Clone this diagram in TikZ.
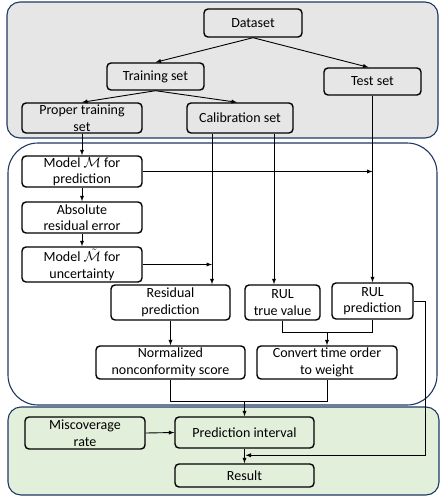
\documentclass[tikz,border=0pt]{standalone}
\usepackage{amsmath}
\usepackage{fontspec}
\setmainfont{Carlito}
\usepackage{xcolor}
\usepackage{tikz}
\usetikzlibrary{calc}
\usetikzlibrary{shapes,arrows,positioning}
\definecolor{panelgray}{HTML}{E7E6E6}
\definecolor{panelgreen}{HTML}{E2EFDA}
\definecolor{panelblue}{HTML}{1F3864}
\begin{document}
\begin{tikzpicture}[x=1pt,y=-1pt,
	box/.style={draw,line width=1.4pt,rounded corners=4pt,align=center,inner xsep=2pt,inner ysep=0pt,
		font=\fontsize{14}{16.5}\selectfont,text=black},
	panel/.style={draw=panelblue,line width=1.1pt},
	link/.style={-latex,line width=0.9pt},
	plain/.style={line width=0.9pt}]
	\useasboundingbox (0,0) rectangle (440,496);
	\draw[panel,fill=panelgray,rounded corners=13pt] (7,2) rectangle (438,138);
	\draw[panel,fill=white,rounded corners=30pt] (8,143) rectangle (437,405);
	\draw[panel,fill=panelgreen,rounded corners=13pt] (8,407) rectangle (439,495);
	\node[box,minimum width=98pt,minimum height=28pt] (dataset) at (253,23) {Dataset};
	\node[box,minimum width=97pt,minimum height=27pt] (train) at (155.5,76.5) {Training set};
	\node[box,minimum width=97pt,minimum height=27pt] (test) at (372.5,81.5) {Test set};
	\node[box,minimum width=120pt,minimum height=30pt] (proper) at (82,118) {Proper training\\set};
	\node[box,minimum width=106pt,minimum height=30pt] (calib) at (240,118) {Calibration set};
	\node[box,minimum width=120pt,minimum height=31pt] (modelM) at (82,171.5) {Model $\mathcal{M}$ for\\prediction};
	\node[box,minimum width=120pt,minimum height=31pt] (abserr) at (82,217.5) {Absolute\\residual error};
	\node[box,minimum width=120pt,minimum height=35pt] (modelU) at (82,264.5) {Model $\tilde{\mathcal{M}}$ for\\uncertainty};
	\node[box,minimum width=119pt,minimum height=35pt] (resid) at (170.5,302.5) {Residual\\prediction};
	\node[box,minimum width=75pt,minimum height=35pt] (rultrue) at (282.5,302.5) {RUL\\true value};
	\node[box,minimum width=81pt,minimum height=36pt] (rulpred) at (372.5,301) {RUL\\prediction};
	\node[box,minimum width=149pt,minimum height=33pt] (score) at (170.5,362.5) {Normalized\\nonconformity score};
	\node[box,minimum width=140pt,minimum height=33pt] (weight) at (327,362.5) {Convert time order\\to weight};
	\node[box,minimum width=120pt,minimum height=32pt] (miscov) at (85,433) {Miscoverage\\rate};
	\node[box,minimum width=139pt,minimum height=31pt] (interval) at (244.5,432.5) {Prediction interval};
	\node[box,minimum width=139pt,minimum height=23pt] (result) at (244.5,475.5) {Result};
	\coordinate (c1) at ([xshift=-28pt]calib.south);
	\coordinate (c2) at ([xshift=34pt]calib.south);
	\draw[link] (dataset.south) -- (train.north);
	\draw[link] (dataset.south) -- ([xshift=-4pt]test.north);
	\draw[link] (train.south) -- (proper.north);
	\draw[link] (train.south) -- ([xshift=-3pt]calib.north);
	\draw[link] (proper.south) -- (modelM.north);
	\draw[link] (modelM.south) -- (abserr.north);
	\draw[link] (abserr.south) -- (modelU.north);
	\draw[link] (c1) -- (c1 |- resid.north);
	\draw[link] (c2) -- (c2 |- rultrue.north);
	\draw[link] (test.south) -- (rulpred.north);
	\draw[link] (modelM.east) -- (test.south |- modelM.east);
	\draw[link] (modelU.east) -- (c1 |- modelU.east);
	\draw[link] (resid.south) -- (score.north);
	\draw[plain] (rultrue.south) -- ++(0,12) coordinate (j1) -| (rulpred.south);
	\draw[link] (weight.north |- j1) -- (weight.north);
	\draw[plain] (score.south) -- ++(0,22) coordinate (j2) -| (weight.south);
	\draw[link] (interval.north |- j2) -- (interval.north);
	\coordinate (r) at ($(interval.south)!0.45!(result.north)$);
	\draw[link] (rulpred.east) -- ++(12,0) |- ([xshift=1pt]r);
	\draw[link] (miscov.east) -- (interval.west);
	\draw[link] (interval.south) -- (result.north);
\end{tikzpicture}
\end{document}
